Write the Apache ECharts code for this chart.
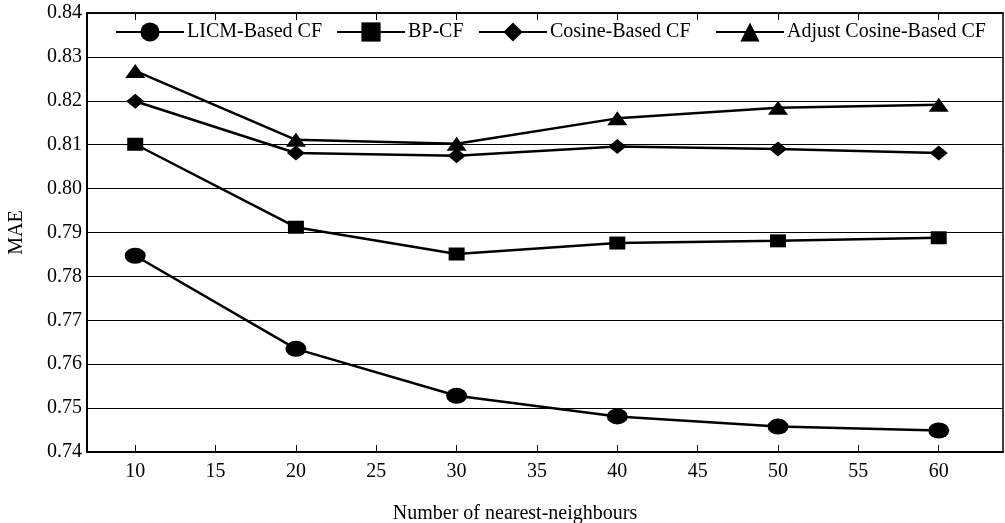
<!DOCTYPE html>
<html><head><meta charset="utf-8">
<script src="https://cdn.jsdelivr.net/npm/echarts@6/dist/echarts.min.js"></script>
<style>html,body{margin:0;padding:0;background:#fff}#c{width:1005px;height:523px}</style>
</head><body><div id="c"></div>
<script>
var xValues = [10, 20, 30, 40, 50, 60];
var xTicks = [10, 15, 20, 25, 30, 35, 40, 45, 50, 55, 60];
var licm = [0.7847, 0.7635, 0.7528, 0.7481, 0.7458, 0.7449];
var bp = [0.8101, 0.7912, 0.7851, 0.7876, 0.7881, 0.7888];
var cosine = [0.8199, 0.8081, 0.8075, 0.8096, 0.8090, 0.8081];
var adjust = [0.8268, 0.8111, 0.8102, 0.8160, 0.8184, 0.8191];
var names = ['LICM-Based CF', 'BP-CF', 'Cosine-Based CF', 'Adjust Cosine-Based CF'];

function pairs(v){ return xValues.map(function(x,i){return [x, v[i]];}); }
var font = 'Liberation Serif';
function mk(name, data, symbol, size){
  return {name:name, type:'line', data:pairs(data), symbol:symbol, symbolSize:size,
    lineStyle:{color:'#000', width:2.5}, itemStyle:{color:'#000'}, animation:false, z:3};
}
var legendLefts = [115, 336, 478, 715];
var legends = names.map(function(n, i){
  return {top:22, left:legendLefts[i], padding:0, itemWidth:68, itemHeight:24, itemGap:0,
    textStyle:{fontFamily:font, fontSize:20, color:'#000', padding:[0,0,0,-2]},
    data:[n]};
});
var chart = echarts.init(document.getElementById('c'));
chart.setOption({
  backgroundColor:'#fff',
  textStyle:{fontFamily:font, color:'#000'},
  grid:{left:87, right:2, top:13, bottom:71, outerBoundsMode:'none', containLabel:false,
    show:true, borderColor:'#000', borderWidth:1.5},
  legend:legends,
  xAxis:[{type:'value', min:7, max:64,
    name:'Number of nearest-neighbours', nameLocation:'middle', nameGap:52,
    nameTextStyle:{fontFamily:font, fontSize:20, color:'#000', padding:[0,60,0,0]},
    axisLine:{lineStyle:{color:'#000', width:2}},
    axisTick:{inside:true, length:7, lineStyle:{color:'#000', width:1}, customValues:xTicks},
    axisLabel:{customValues:xTicks, fontFamily:font, fontSize:20, color:'#000', margin:10},
    splitLine:{show:false}},
   {type:'value', min:7, max:64, position:'top',
    axisLine:{lineStyle:{color:'#000', width:1.5}},
    axisTick:{inside:true, length:7, lineStyle:{color:'#000', width:1}, customValues:xTicks},
    axisLabel:{show:false}, splitLine:{show:false}}],
  yAxis:{type:'value', min:0.74, max:0.84, interval:0.01,
    name:'MAE', nameLocation:'middle', nameGap:60, nameRotate:90,
    nameTextStyle:{fontFamily:font, fontSize:20, color:'#000'},
    axisLine:{show:true, lineStyle:{color:'#000', width:2}},
    axisTick:{show:false},
    axisLabel:{fontFamily:font, fontSize:20, color:'#000', margin:5,
      formatter:function(v){return v.toFixed(2);}},
    splitLine:{show:true, lineStyle:{color:'#000', width:1}}},
  series:[
    mk(names[0], licm, 'circle', [21,16]),
    mk(names[1], bp, 'rect', [16,13]),
    mk(names[2], cosine, 'diamond', [18,15]),
    mk(names[3], adjust, 'triangle', [20,14])
  ]
});
</script></body></html>
